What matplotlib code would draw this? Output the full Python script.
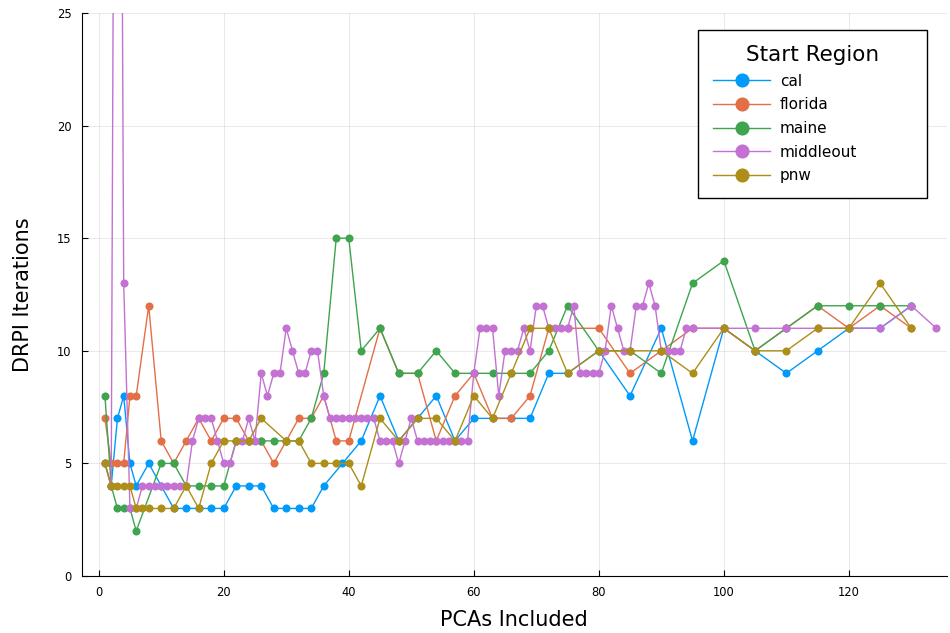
"""DRPI iteration counts vs number of PCAs included, one line per start region."""

import matplotlib

matplotlib.use("Agg")
import matplotlib.pyplot as plt  # noqa: E402

# PCAs included / DRPI iterations, per start region
cal_x = [1, 2, 3, 4, 5, 6, 8, 10, 12, 14, 16, 18, 20, 22, 24, 26, 28, 30, 32, 34,
         36, 39, 42, 45, 48, 51, 54, 57, 60, 63, 66, 69, 72, 75, 80, 85, 90, 95,
         100, 105, 110, 115, 120, 125, 130]
cal_y = [5, 4, 7, 8, 5, 4, 5, 4, 3, 3, 3, 3, 3, 4, 4, 4, 3, 3, 3, 3,
         4, 5, 6, 8, 6, 7, 8, 6, 7, 7, 7, 7, 9, 9, 10, 8, 11, 6,
         11, 10, 9, 10, 11, 11, 12]

florida_x = [1, 2, 3, 4, 5, 6, 8, 10, 12, 14, 16, 18, 20, 22, 24, 26, 28, 30, 32,
             34, 36, 38, 40, 45, 48, 51, 54, 57, 60, 63, 66, 69, 72, 75, 80, 85,
             90, 95, 100, 105, 110, 115, 120, 125, 130]
florida_y = [7, 5, 5, 5, 8, 8, 12, 6, 5, 6, 7, 6, 7, 7, 6, 6, 5, 6, 7,
             7, 8, 6, 6, 11, 9, 9, 6, 8, 9, 7, 7, 8, 11, 11, 11, 9,
             10, 11, 11, 10, 11, 12, 11, 12, 11]

maine_x = [1, 2, 3, 4, 5, 6, 10, 12, 14, 16, 18, 20, 22, 24, 26, 28, 30, 32, 34,
           36, 38, 40, 42, 45, 48, 51, 54, 57, 60, 63, 66, 69, 72, 75, 80, 85,
           90, 95, 100, 105, 110, 115, 120, 125, 130]
maine_y = [8, 4, 3, 3, 3, 2, 5, 5, 4, 4, 4, 4, 6, 6, 6, 6, 6, 6, 7,
           9, 15, 15, 10, 11, 9, 9, 10, 9, 9, 9, 9, 9, 10, 12, 10, 10,
           9, 13, 14, 10, 11, 12, 12, 12, 12]

middleout_x = list(range(1, 96)) + [100, 105, 110, 115, 120, 125, 130, 134]
middleout_y = [5, 4, 73, 13, 3, 3, 4, 4, 4, 4, 4, 4, 4, 4, 6, 7, 7, 7, 6, 5,
               5, 6, 6, 7, 6, 9, 8, 9, 9, 11, 10, 9, 9, 10, 10, 8, 7, 7, 7, 7,
               7, 7, 7, 7, 6, 6, 6, 5, 6, 7, 6, 6, 6, 6, 6, 6, 6, 6, 6, 9,
               11, 11, 11, 8, 10, 10, 10, 11, 10, 12, 12, 11, 11, 11, 11, 12, 9, 9, 9, 9,
               10, 12, 11, 10, 10, 12, 12, 13, 12, 10, 10, 10, 10, 11, 11,
               11, 11, 11, 11, 11, 11, 12, 11]

pnw_x = [1, 2, 3, 4, 5, 6, 7, 8, 10, 12, 14, 16, 18, 20, 22, 24, 26, 30, 32, 34,
         36, 38, 40, 42, 45, 48, 51, 54, 57, 60, 63, 66, 69, 72, 75, 80, 85, 90,
         95, 100, 105, 110, 115, 120, 125, 130]
pnw_y = [5, 4, 4, 4, 4, 3, 3, 3, 3, 3, 4, 3, 5, 6, 6, 6, 7, 6, 6, 5,
         5, 5, 5, 4, 7, 6, 7, 7, 6, 8, 7, 9, 11, 11, 9, 10, 10, 10,
         9, 11, 10, 10, 11, 11, 13, 11]

regions = ["cal", "florida", "maine", "middleout", "pnw"]
colors = ["#009AFA", "#E36F47", "#3EA44E", "#C371D2", "#AC8E18"]
series = [(cal_x, cal_y), (florida_x, florida_y), (maine_x, maine_y),
          (middleout_x, middleout_y), (pnw_x, pnw_y)]

plt.rcParams["font.family"] = ["DejaVu Sans"]

fig = plt.figure(figsize=(9.5, 6.33), dpi=100)
ax = fig.add_axes([81.5 / 950, 57 / 633, 865.5 / 950, 563 / 633])

for name, col, (xs, ys) in zip(regions, colors, series):
    ax.plot(xs, ys, color=col, linewidth=1.0, marker="o", markersize=5.8,
            markeredgewidth=0, label=name)

ax.set_xlim(-2.75, 135.7)
ax.set_ylim(0, 25)
ax.set_xticks([0, 20, 40, 60, 80, 100, 120])
ax.set_yticks([0, 5, 10, 15, 20, 25])
ax.tick_params(direction="in", length=4, width=0.8, labelsize=8.3, pad=7)
ax.grid(True, color="black", alpha=0.1, linewidth=0.6)
ax.set_axisbelow(True)
for side in ("top", "right"):
    ax.spines[side].set_visible(False)
for side in ("left", "bottom"):
    ax.spines[side].set_linewidth(0.8)

ax.set_xlabel("PCAs Included", fontsize=15)
ax.set_ylabel("DRPI Iterations", fontsize=15)
ax.xaxis.set_label_coords(0.5, -0.06)
ax.yaxis.set_label_coords(-0.056, 0.5)

# legend box stretched to a fixed width, entries left-aligned, title centred
leg_x0, leg_x1 = 0.7123, 0.9771
leg_top = 0.9698
leg = ax.legend(title="Start Region", loc="upper left",
                bbox_to_anchor=(leg_x0, leg_top - 0.3, leg_x1 - leg_x0, 0.3),
                mode="expand", borderaxespad=0,
                fontsize=11, title_fontsize=15.5, fancybox=False,
                framealpha=1, edgecolor="black", handlelength=3.7,
                handletextpad=0.65, labelspacing=0.56, borderpad=1.0,
                markerscale=1.75)
leg.get_frame().set_linewidth(1.0)

fig.savefig("out.png", dpi=100)
